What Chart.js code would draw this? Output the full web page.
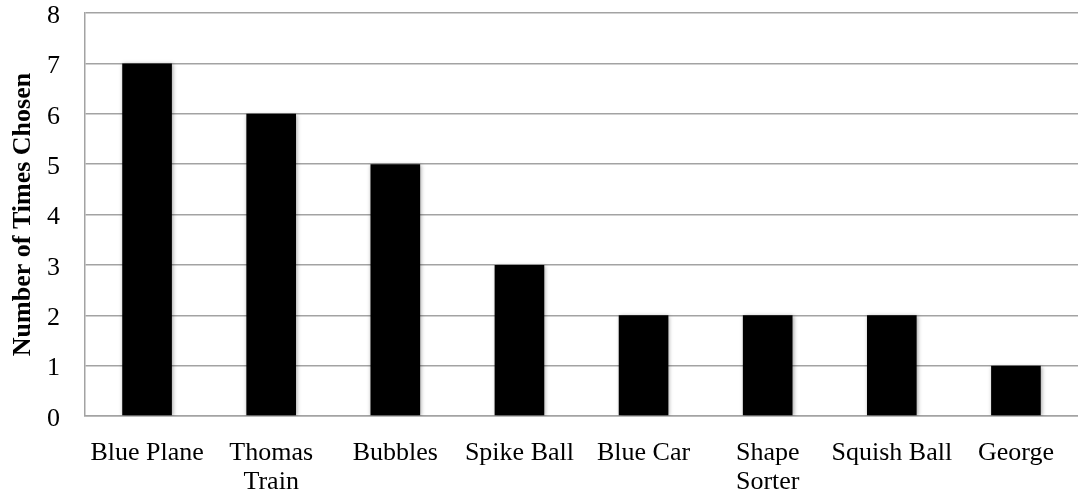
<!DOCTYPE html>
<html>
<head>
<meta charset="utf-8">
<script src="https://cdn.jsdelivr.net/npm/chart.js@4/dist/chart.umd.min.js"></script>
<style>
  html, body { margin: 0; padding: 0; background: #fff; }
  #wrap { width: 1078px; height: 499px; }
</style>
</head>
<body>
<div id="wrap"><canvas id="c" width="1078" height="499"></canvas></div>
<script>
// Toy choices and how often each was picked
const toys = [
  'Blue Plane',
  ['Thomas', 'Train'],
  'Bubbles',
  'Spike Ball',
  'Blue Car',
  ['Shape', 'Sorter'],
  'Squish Ball',
  'George'
];
const timesChosen = [7, 6, 5, 3, 2, 2, 2, 1];
const yTicks = [0, 1, 2, 3, 4, 5, 6, 7, 8];

const serif = '"Liberation Serif", "Times New Roman", serif';
const gridGray = '#a3a3a3';

// Soft drop shadow behind the bars
const barShadow = {
  id: 'barShadow',
  beforeDatasetsDraw(chart) {
    const ctx = chart.ctx;
    ctx.save();
    ctx.shadowColor = 'rgba(0,0,0,0.35)';
    ctx.shadowBlur = 4;
    ctx.shadowOffsetX = 1;
    ctx.shadowOffsetY = 1;
  },
  afterDatasetsDraw(chart) {
    chart.ctx.restore();
  }
};

new Chart(document.getElementById('c'), {
  type: 'bar',
  data: {
    labels: toys,
    datasets: [{
      data: timesChosen,
      backgroundColor: '#000',
      borderWidth: 0,
      barPercentage: 0.4,
      categoryPercentage: 1.0
    }]
  },
  options: {
    responsive: false,
    animation: false,
    devicePixelRatio: 1,
    layout: {
      autoPadding: false,
      padding: { top: 13, right: 0, bottom: 0, left: 0 }
    },
    plugins: {
      legend: { display: false },
      tooltip: { enabled: false }
    },
    scales: {
      x: {
        grid: { display: false, drawTicks: false },
        border: { display: true, color: gridGray, width: 1.5 },
        ticks: {
          color: '#000',
          padding: 23,
          maxRotation: 0,
          autoSkip: false,
          font: { family: serif, size: 26, lineHeight: 1.1 }
        },
        afterFit(scale) {
          scale.height = 83;
          scale.paddingLeft = 0;
          scale.paddingRight = 0;
        }
      },
      y: {
        min: 0,
        max: 8,
        afterBuildTicks(scale) {
          scale.ticks = yTicks.map(v => ({ value: v }));
        },
        grid: { color: gridGray, lineWidth: 1.5, drawTicks: false },
        border: { display: true, color: gridGray, width: 1.5 },
        ticks: {
          color: '#000',
          padding: 25,
          labelOffset: 3,
          font: { family: serif, size: 26 }
        },
        title: {
          display: true,
          text: 'Number of Times Chosen',
          color: '#000',
          padding: { top: 8, bottom: 0 },
          font: { family: serif, size: 26, weight: 'bold' }
        },
        afterFit(scale) {
          scale.width = 85;
          scale.paddingTop = 0;
          scale.paddingBottom = 0;
        }
      }
    }
  },
  plugins: [barShadow]
});
</script>
</body>
</html>
